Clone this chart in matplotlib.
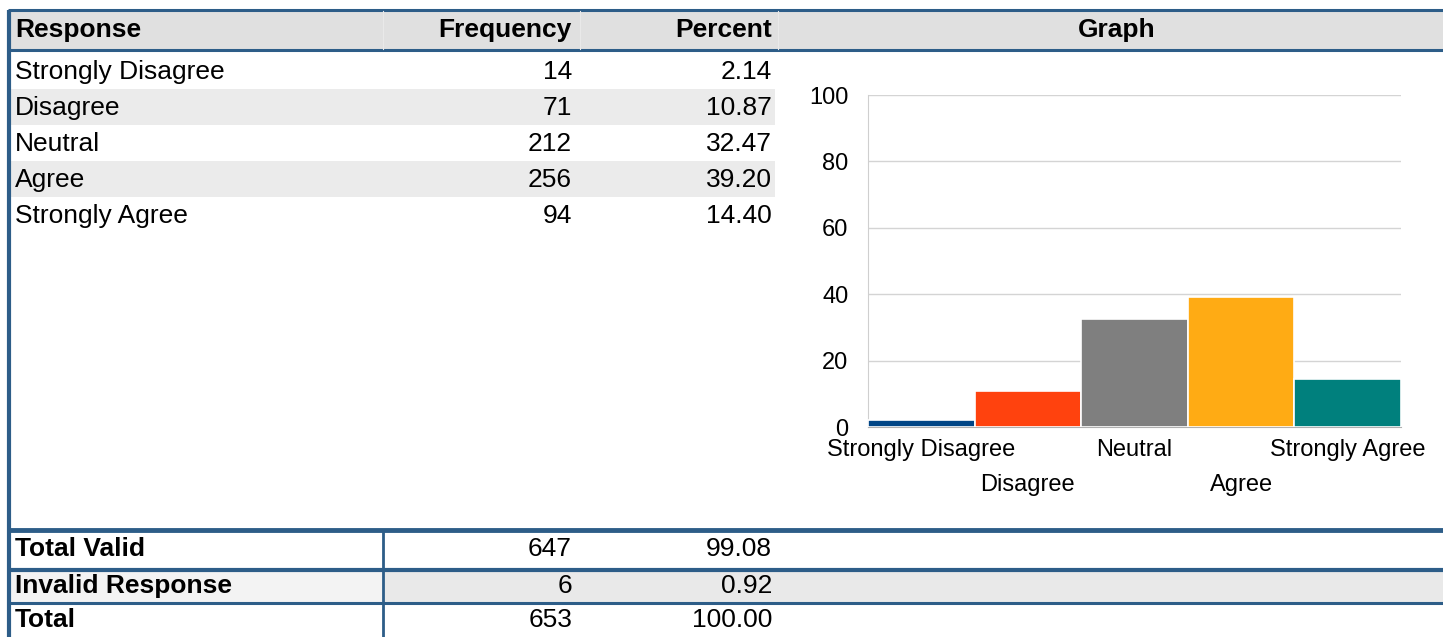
import matplotlib
matplotlib.use("Agg")
import matplotlib.pyplot as plt
from matplotlib.patches import Rectangle

plt.rcParams['font.family'] = ['Liberation Sans', 'DejaVu Sans']

# ---- data ----
responses = ["Strongly Disagree", "Disagree", "Neutral", "Agree", "Strongly Agree"]
frequency = [14, 71, 212, 256, 94]
percent = [2.14, 10.87, 32.47, 39.20, 14.40]
bar_colors = ["#004586", "#ff420e", "#7f7f7f", "#ffab14", "#00807d"]
headers = ["Response", "Frequency", "Percent", "Graph"]
summary_labels = ["Total Valid", "Invalid Response", "Total"]
summary_freq = [647, 6, 653]
summary_pct = [99.08, 0.92, 100.00]
y_ticks = [0, 20, 40, 60, 80, 100]

W, H = 1443, 637
LINE = "#2d5d88"
fig = plt.figure(figsize=(W / 100, H / 100), dpi=100)

# table axes in pixel coordinates
t = fig.add_axes([0, 0, 1, 1])
t.set_xlim(0, W)
t.set_ylim(H, 0)
t.axis("off")

FS = 19
# header
t.add_patch(Rectangle((8, 10), W - 8, 40, facecolor="#e0e0e0", edgecolor="none"))
t.plot([8, W], [10, 10], color=LINE, lw=2.2, solid_capstyle="butt")
t.plot([8, W], [50, 50], color=LINE, lw=2.2, solid_capstyle="butt")
for xx in (383, 580, 778):
    t.plot([xx, xx], [11, 49], color="#e9e9e9", lw=0.8)
t.text(15, 30, headers[0], fontsize=FS, fontweight="bold", va="center", ha="left")
t.text(572, 30, headers[1], fontsize=FS, fontweight="bold", va="center", ha="right")
t.text(772, 30, headers[2], fontsize=FS, fontweight="bold", va="center", ha="right")
t.text(1117, 30, headers[3], fontsize=FS, fontweight="bold", va="center", ha="center")

# data rows
row_h = 36
y0 = 54
for i, (r, f, p) in enumerate(zip(responses, frequency, percent)):
    top = y0 + i * row_h
    cy = top + row_h / 2
    if i % 2 == 1:
        t.add_patch(Rectangle((10, top - 1), 765, row_h, facecolor="#ebebeb", edgecolor="none"))
    t.text(15, cy, r, fontsize=FS, va="center", ha="left")
    t.text(572, cy, f"{f}", fontsize=FS, va="center", ha="right")
    t.text(772, cy, f"{p:.2f}", fontsize=FS, va="center", ha="right")

# summary rows
t.add_patch(Rectangle((10, 571), 373, 31, facecolor="#f3f3f3", edgecolor="none"))
t.add_patch(Rectangle((383, 571), W - 383, 31, facecolor="#e9e9e9", edgecolor="none"))
t.plot([8, W], [530, 530], color=LINE, lw=3.5, solid_capstyle="butt")
t.plot([8, W], [570, 570], color=LINE, lw=3.0, solid_capstyle="butt")
t.plot([8, W], [603, 603], color=LINE, lw=2.2, solid_capstyle="butt")
t.plot([383, 383], [530, H], color=LINE, lw=2.0, solid_capstyle="butt")
sum_y = [549, 586, 620]
for lab, f, p, cy in zip(summary_labels, summary_freq, summary_pct, sum_y):
    t.text(15, cy, lab, fontsize=FS, fontweight="bold", va="center", ha="left")
    t.text(572, cy, f"{f}", fontsize=FS, va="center", ha="right")
    t.text(772, cy, f"{p:.2f}", fontsize=FS, va="center", ha="right")

# left border
t.plot([9, 9], [10, H], color=LINE, lw=3.0, solid_capstyle="butt")

# ---- bar chart ----
ax_l, ax_r, ax_t, ax_b = 868, 1401, 95, 427
ax = fig.add_axes([ax_l / W, 1 - ax_b / H, (ax_r - ax_l) / W, (ax_b - ax_t) / H])
x = list(range(len(responses)))
ax.bar(x, percent, width=1.0, color=bar_colors, edgecolor="white", linewidth=1.2, zorder=3)
ax.set_xlim(-0.5, len(responses) - 0.5)
ax.set_ylim(0, 100)
ax.set_yticks(y_ticks)
ax.set_yticklabels([str(v) for v in y_ticks])
ax.grid(axis="y", color="#d4d4d4", lw=1, zorder=0)
ax.set_axisbelow(True)
for s in ("top", "right"):
    ax.spines[s].set_visible(False)
ax.spines["left"].set_color("#cfcfcf")
ax.spines["bottom"].set_color("#b0b0b0")
ax.tick_params(axis="y", length=0, pad=14, labelsize=17)

ax.set_xticks(x[0::2])
ax.set_xticklabels(responses[0::2])
ax.set_xticks(x[1::2], minor=True)
ax.set_xticklabels(responses[1::2], minor=True)
ax.tick_params(axis="x", which="major", length=0, pad=8.5, labelsize=17)
ax.tick_params(axis="x", which="minor", length=0, pad=34, labelsize=17)

fig.savefig("out.png", dpi=100)
